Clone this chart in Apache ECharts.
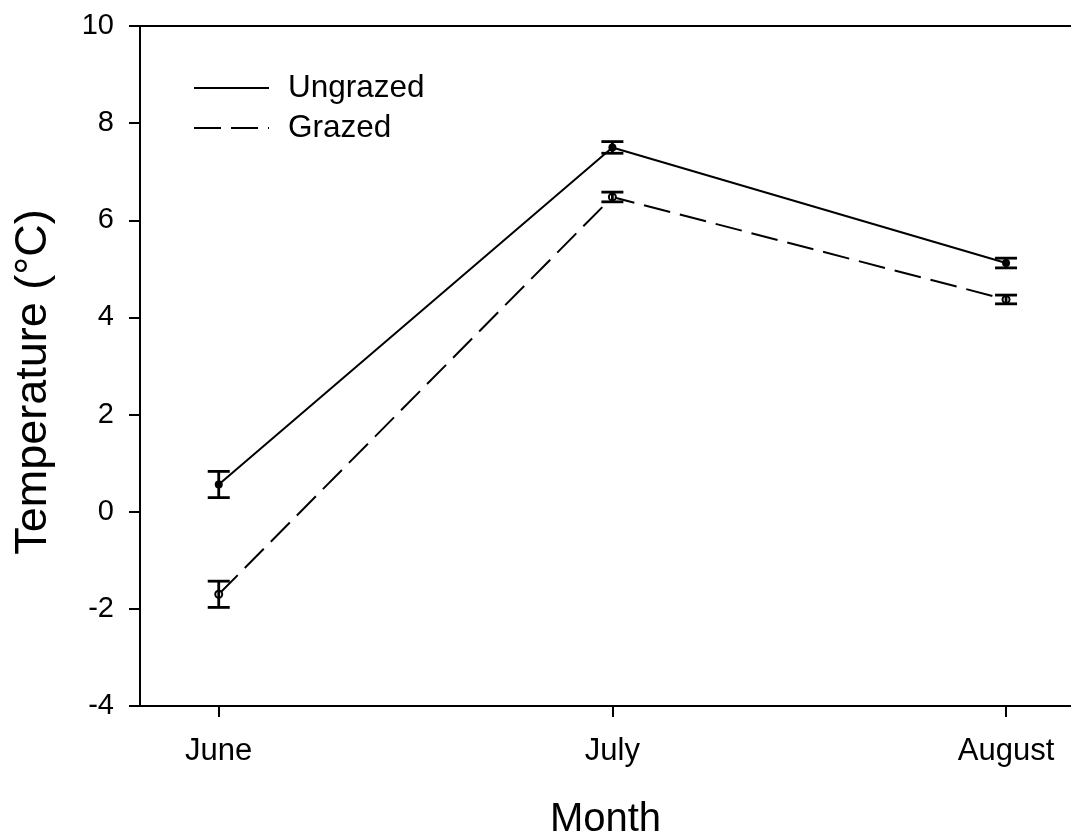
<!DOCTYPE html>
<html>
<head>
<meta charset="utf-8">
<script src="https://cdn.jsdelivr.net/npm/echarts@6/dist/echarts.min.js"></script>
<style>
html,body{margin:0;padding:0;background:#fff;}
#chart{width:1071px;height:836px;}
</style>
</head>
<body>
<div id="chart"></div>
<script>
const months = ['June', 'July', 'August'];
const ungrazed = [0.56, 7.50, 5.12];
const ungrazedErr = [0.27, 0.12, 0.10];
const grazed = [-1.70, 6.48, 4.37];
const grazedErr = [0.27, 0.10, 0.09];
const yTicks = [-4, -2, 0, 2, 4, 6, 8, 10];

const FONT = '"Liberation Sans", Arial, sans-serif';

function pts(vals) { return vals.map((v, i) => [i, v]); }
function errData(vals, errs) { return vals.map((v, i) => [i, v - errs[i], v + errs[i]]); }

function errRender(params, api) {
  const x = api.value(0);
  const lo = api.coord([x, api.value(1)]);
  const hi = api.coord([x, api.value(2)]);
  const hw = 11;
  const style = { stroke: '#000', lineWidth: 2.8, fill: null };
  return {
    type: 'group',
    children: [
      { type: 'line', shape: { x1: lo[0], y1: lo[1], x2: hi[0], y2: hi[1] }, style: style },
      { type: 'line', shape: { x1: lo[0] - hw, y1: lo[1], x2: lo[0] + hw, y2: lo[1] }, style: style },
      { type: 'line', shape: { x1: hi[0] - hw, y1: hi[1], x2: hi[0] + hw, y2: hi[1] }, style: style }
    ]
  };
}

const chart = echarts.init(document.getElementById('chart'));
const xMin = -0.2, xMax = 2.165;
chart.setOption({
  animation: false,
  backgroundColor: '#fff',
  grid: { left: 140, right: 0, top: 26, bottom: 130, containLabel: false, outerBoundsMode: 'none' },
  legend: {
    orient: 'vertical',
    left: 188,
    top: 66,
    itemWidth: 75,
    itemHeight: 14,
    itemGap: 6,
    itemStyle: { opacity: 0 },
    textStyle: { fontFamily: FONT, fontSize: 31.5, color: '#000', lineHeight: 34, padding: [0, 0, 0, 14] },
    data: ['Ungrazed', 'Grazed']
  },
  xAxis: [{
    type: 'value',
    min: xMin,
    max: xMax,
    position: 'bottom',
    splitLine: { show: false },
    axisLine: { show: true, onZero: false, lineStyle: { color: '#000', width: 2 } },
    axisTick: { show: true, customValues: [0, 1, 2], length: 11, lineStyle: { color: '#000', width: 2 } },
    axisLabel: {
      customValues: [0, 1, 2],
      formatter: v => months[Math.round(v)],
      margin: 30,
      fontFamily: FONT, fontSize: 31, color: '#000'
    },
    name: 'Month',
    nameLocation: 'middle',
    nameGap: 94,
    nameTextStyle: { fontFamily: FONT, fontSize: 40, color: '#000' }
  }, {
    type: 'value',
    min: xMin,
    max: xMax,
    position: 'top',
    splitLine: { show: false },
    axisLine: { show: true, onZero: false, lineStyle: { color: '#000', width: 2 } },
    axisTick: { show: false },
    axisLabel: { show: false }
  }],
  yAxis: {
    type: 'value',
    min: yTicks[0],
    max: yTicks[yTicks.length - 1],
    interval: 2,
    splitLine: { show: false },
    axisLine: { show: true, onZero: false, lineStyle: { color: '#000', width: 2 } },
    axisTick: { show: true, length: 11, lineStyle: { color: '#000', width: 2 } },
    axisLabel: { margin: 26, fontFamily: FONT, fontSize: 29, color: '#000' },
    name: 'Temperature (°C)',
    nameLocation: 'middle',
    nameGap: 84,
    nameTextStyle: { fontFamily: FONT, fontSize: 45, color: '#000', padding: [0, 32, 0, 0] }
  },
  series: [{
    name: 'Ungrazed',
    type: 'line',
    data: pts(ungrazed),
    symbol: 'circle',
    symbolSize: 8,
    itemStyle: { color: '#000', borderColor: '#000', borderWidth: 0 },
    lineStyle: { color: '#000', width: 2, type: 'solid' },
    z: 3
  }, {
    name: 'Grazed',
    type: 'line',
    data: pts(grazed),
    symbol: 'circle',
    symbolSize: 7,
    itemStyle: { color: '#fff', borderColor: '#000', borderWidth: 2 },
    lineStyle: { color: '#000', width: 2, type: [27, 10] },
    z: 3
  }, {
    type: 'custom',
    data: errData(ungrazed, ungrazedErr),
    renderItem: errRender,
    encode: { x: 0, y: [1, 2] },
    z: 4
  }, {
    type: 'custom',
    data: errData(grazed, grazedErr),
    renderItem: errRender,
    encode: { x: 0, y: [1, 2] },
    z: 4
  }]
});
</script>
</body>
</html>
